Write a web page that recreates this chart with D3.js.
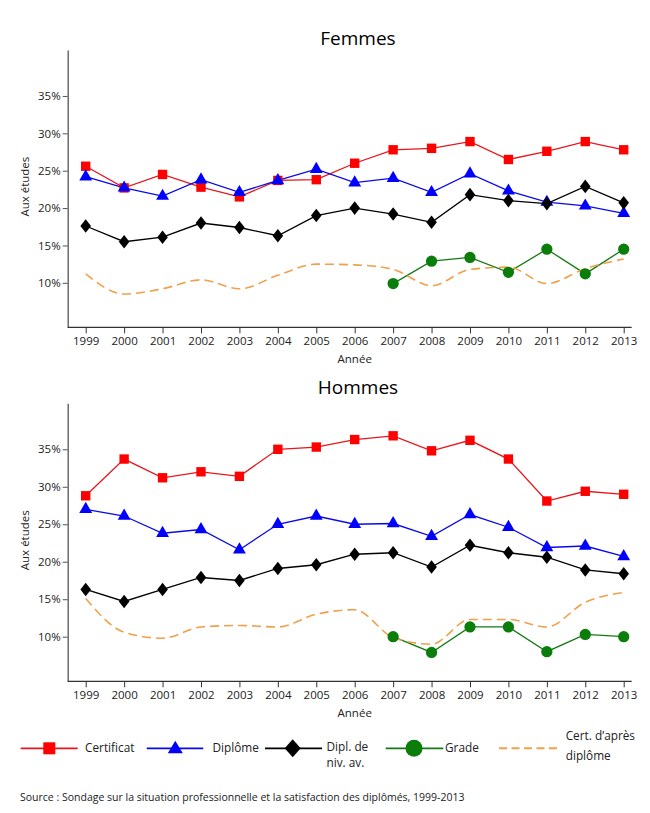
<!DOCTYPE html>
<html><head><meta charset="utf-8">
<script src="https://cdn.jsdelivr.net/npm/d3@7"></script>
<style>body{margin:0;background:#fff;} text{font-family:"Open Sans","Noto Sans",sans-serif;}</style>
</head><body>
<script>
const years = [1999,2000,2001,2002,2003,2004,2005,2006,2007,2008,2009,2010,2011,2012,2013];
const yTicks = [10,15,20,25,30,35];

// Femmes
const femmesCertificat = [25.6,22.7,24.5,22.8,21.5,23.7,23.8,26.0,27.8,28.0,28.9,26.5,27.6,28.9,27.8];
const femmesDiplome    = [24.2,22.7,21.6,23.8,22.1,23.7,25.2,23.4,24.0,22.1,24.6,22.3,20.8,20.3,19.3];
const femmesDiplNivAv  = [17.6,15.5,16.1,18.0,17.4,16.3,19.0,20.0,19.2,18.1,21.8,21.0,20.6,22.9,20.7];
const femmesGrade      = [null,null,null,null,null,null,null,null,9.9,12.9,13.4,11.4,14.5,11.2,14.5];
const femmesCertApres  = [11.2,8.5,9.2,10.4,9.2,11.0,12.5,12.4,11.8,9.6,11.8,12.1,9.9,11.9,13.2];

// Hommes
const hommesCertificat = [28.8,33.7,31.2,32.0,31.4,35.0,35.3,36.3,36.8,34.8,36.2,33.7,28.1,29.4,29.0];
const hommesDiplome    = [27.0,26.1,23.8,24.3,21.6,25.0,26.1,25.0,25.1,23.4,26.3,24.6,21.9,22.1,20.7];
const hommesDiplNivAv  = [16.3,14.7,16.3,17.9,17.5,19.1,19.6,21.0,21.2,19.3,22.2,21.2,20.6,18.9,18.4];
const hommesGrade      = [null,null,null,null,null,null,null,null,10.0,7.9,11.3,11.3,8.0,10.3,10.0];
const hommesCertApres  = [15.1,10.6,9.8,11.3,11.5,11.3,13.0,13.6,9.9,9.0,12.3,12.3,11.3,14.6,15.9];

const seriesNames = ["Certificat","Diplôme","Dipl. de niv. av.","Grade","Cert. d'après diplôme"];
const colors = ["#e8161b","#0a0ae8","#000000","#137a13","#f0a04a"];
const markerFill = ["#ff0000","#0000ff","#000000","#0b7d0b",null];

const W = 650, H = 813;
const svg = d3.select("body").append("svg").attr("width",W).attr("height",H);

const x = d3.scalePoint().domain(years).range([85.7, 623.7]);

function markerPath(i){
  if(i===0) return d3.symbol().type(d3.symbolSquare).size(88)();
  if(i===1) return d3.symbol().type(d3.symbolTriangle).size(72)();
  if(i===2) return "M0,-6.8L5.3,0L0,6.8L-5.3,0Z";
  if(i===3) return d3.symbol().type(d3.symbolCircle).size(100)();
  return null;
}

function drawPanel(title, titleY, top, bottom, data){
  const y = d3.scaleLinear().domain([4.05, 41.15]).range([bottom, top]);
  const g = svg.append("g");
  g.append("text").attr("x",358).attr("y",titleY).attr("text-anchor","middle")
    .attr("font-size",19).attr("fill","#000").text(title);

  const ya = g.append("g").attr("transform","translate(67.7,0)")
    .call(d3.axisLeft(y).tickValues(yTicks).tickFormat(d=>d+"%").tickSize(5).tickSizeOuter(0));
  ya.select(".domain").attr("stroke","#555").attr("stroke-width",1.3);
  ya.selectAll(".tick line").attr("stroke","#555");
  ya.selectAll(".tick text").attr("font-size",11.5).attr("fill","#222").attr("x",-7)
    .style("font-family","'Open Sans',sans-serif");

  const xa = g.append("g").attr("transform",`translate(0,${bottom})`)
    .call(d3.axisBottom(x).tickSize(6).tickSizeOuter(0));
  xa.select(".domain").attr("d",`M67.7,0H631.7`).attr("stroke","#333").attr("stroke-width",1.3);
  xa.selectAll(".tick line").attr("stroke","#333");
  xa.selectAll(".tick text").attr("font-size",11.5).attr("fill","#222").attr("y",10)
    .style("font-family","'Open Sans',sans-serif");

  g.append("text").attr("x",x(2006)).attr("y",bottom+36).attr("text-anchor","middle")
    .attr("font-size",11.5).attr("fill","#222").text("Année");
  const cy = (top+bottom)/2 - 2;
  g.append("text").attr("transform",`translate(29,${cy}) rotate(-90)`).attr("text-anchor","middle")
    .attr("font-size",11.5).attr("fill","#222").text("Aux études");

  data.forEach((vals,i)=>{
    const pts = years.map((yr,k)=>({yr,v:vals[k]})).filter(d=>d.v!=null);
    const line = d3.line().x(d=>x(d.yr)).y(d=>y(d.v))
      .curve(i===4 ? d3.curveMonotoneX : d3.curveLinear);
    g.append("path").datum(pts).attr("d",line).attr("fill","none")
      .attr("stroke",colors[i]).attr("stroke-width",i===4?1.6:1.3)
      .attr("stroke-dasharray",i===4?"9,5":null);
  });
  data.forEach((vals,i)=>{
    if(i===4) return;
    const pts = years.map((yr,k)=>({yr,v:vals[k]})).filter(d=>d.v!=null);
    g.selectAll(null).data(pts).enter().append("path")
      .attr("transform",d=>`translate(${x(d.yr)},${y(d.v)})`)
      .attr("d",markerPath(i)).attr("fill",markerFill[i]);
  });
}

drawPanel("Femmes", 45, 50, 327.3,
  [femmesCertificat,femmesDiplome,femmesDiplNivAv,femmesGrade,femmesCertApres]);
drawPanel("Hommes", 394, 403.2, 681.3,
  [hommesCertificat,hommesDiplome,hommesDiplNivAv,hommesGrade,hommesCertApres]);

// Legend
const legY = 748.3;
const legItems = [
  {x1:20.7,x2:77.7,mx:49.3,tx:85,lines:["Certificat"]},
  {x1:146.7,x2:203.3,mx:175.3,tx:212.5,lines:["Diplôme"]},
  {x1:265,x2:322,mx:292.7,tx:326.5,lines:["Dipl. de","niv. av."]},
  {x1:385.7,x2:443.3,mx:414,tx:445,lines:["Grade"]},
  {x1:499,x2:557.3,mx:null,tx:565.7,lines:["Cert. d\u2019après","diplôme"]}
];
const lg = svg.append("g");
legItems.forEach((it,i)=>{
  lg.append("line").attr("x1",it.x1).attr("x2",it.x2).attr("y1",legY).attr("y2",legY)
    .attr("stroke",colors[i]).attr("stroke-width",i===4?2:1.8)
    .attr("stroke-dasharray",i===4?"8,4.5":null);
  if(i===0) lg.append("rect").attr("x",it.mx-6).attr("y",legY-6).attr("width",12).attr("height",12).attr("fill",markerFill[0]);
  if(i===1) lg.append("path").attr("d",`M${it.mx},${legY-7.5}L${it.mx+7.5},${legY+5}L${it.mx-7.5},${legY+5}Z`).attr("fill",markerFill[1]);
  if(i===2) lg.append("path").attr("d",`M${it.mx},${legY-9}L${it.mx+8},${legY}L${it.mx},${legY+9}L${it.mx-8},${legY}Z`).attr("fill","#000");
  if(i===3) lg.append("circle").attr("cx",it.mx).attr("cy",legY).attr("r",8.5).attr("fill",markerFill[3]);
  let ty;
  if(it.lines.length===1) ty = [legY+4];
  else if(i===2) ty = [legY+3, legY+19];
  else ty = [legY-8, legY+12];
  it.lines.forEach((t,k)=>{
    lg.append("text").attr("x",it.tx).attr("y",ty[k]).attr("font-size",11.8).attr("fill","#222").text(t);
  });
});

svg.append("text").attr("x",20).attr("y",801).attr("font-size",10.5).attr("fill","#222")
  .text("Source : Sondage sur la situation professionnelle et la satisfaction des diplômés, 1999-2013");
</script>
</body></html>
